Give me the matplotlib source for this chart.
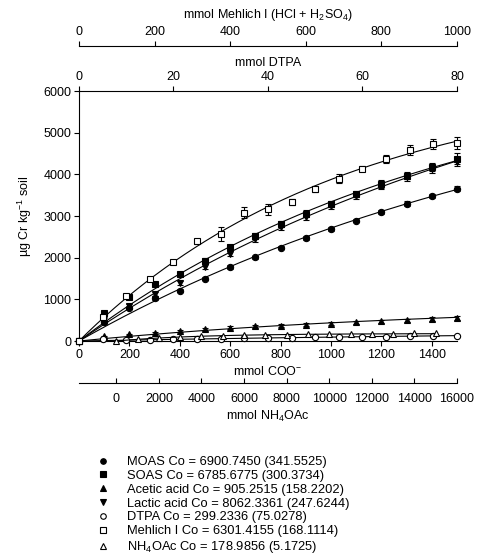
import matplotlib
matplotlib.use("Agg")
import matplotlib.pyplot as plt
import numpy as np
from matplotlib.lines import Line2D

plt.rcParams['font.family'] = ['Liberation Sans', 'DejaVu Sans']
plt.rcParams['mathtext.fontset'] = 'custom'
plt.rcParams['mathtext.rm'] = 'Liberation Sans'
plt.rcParams['mathtext.it'] = 'Liberation Sans:italic'
plt.rcParams['font.size'] = 9

# mmol COO- (organic acids)
x_coo = [0, 100, 200, 300, 400, 500, 600, 700, 800, 900, 1000, 1100, 1200, 1300, 1400, 1500]
moas = [0, 450, 790, 1030, 1210, 1500, 1780, 2010, 2240, 2470, 2690, 2890, 3100, 3300, 3490, 3650]
moas_err = [0, 30, 30, 40, 40, 40, 40, 40, 40, 40, 40, 40, 40, 50, 50, 60]
soas = [0, 680, 1050, 1370, 1600, 1930, 2250, 2520, 2800, 3060, 3280, 3530, 3770, 3970, 4170, 4380]
soas_err = [0, 40, 40, 50, 50, 60, 60, 70, 70, 80, 70, 70, 90, 80, 100, 130]
lactic = [0, 520, 840, 1130, 1400, 1780, 2100, 2440, 2740, 2980, 3240, 3480, 3720, 3930, 4120, 4300]
lactic_err = [0, 40, 40, 50, 50, 60, 60, 60, 70, 70, 70, 70, 80, 80, 90, 100]
acetic = [0, 110, 160, 200, 240, 280, 320, 350, 370, 395, 420, 445, 475, 500, 530, 560]
acetic_err = [0, 20, 20, 20, 30, 30, 30, 30, 30, 30, 40, 40, 40, 40, 50, 50]

# mmol DTPA
x_dtpa = [0, 5, 10, 15, 20, 25, 30, 35, 40, 45, 50, 55, 60, 65, 70, 75, 80]
dtpa = [0, 40, 30, 35, 45, 55, 60, 70, 75, 80, 90, 95, 100, 105, 110, 120, 130]

# mmol Mehlich I
x_meh = [0, 62.5, 125, 187.5, 250, 312.5, 375, 437.5, 500, 562.5, 625, 687.5, 750,
         812.5, 875, 937.5, 1000]
mehlich = [0, 570, 1080, 1480, 1900, 2390, 2570, 3080, 3160, 3340, 3650, 3900, 4140,
           4370, 4580, 4730, 4760]
mehlich_err = [0, 20, 30, 30, 40, 60, 160, 130, 130, 80, 70, 110, 70, 90, 120, 110, 140]

# mmol NH4OAc
x_nh4 = [0, 1000, 2000, 3000, 4000, 5000, 6000, 7000, 8000, 9000, 10000, 11000, 12000,
         13000, 14000, 15000]
nh4 = [0, 50, 70, 90, 110, 125, 135, 145, 155, 165, 170, 175, 180, 180, 185, 185]

labels = ['MOAS Co = 6900.7450 (341.5525)',
          'SOAS Co = 6785.6775 (300.3734)',
          'Acetic acid Co = 905.2515 (158.2202)',
          'Lactic acid Co = 8062.3361 (247.6244)',
          'DTPA Co = 299.2336 (75.0278)',
          'Mehlich I Co = 6301.4155 (168.1114)',
          'NH$_4$OAc Co = 178.9856 (5.1725)']
co_values = [6900.7450, 6785.6775, 905.2515, 8062.3361, 299.2336, 6301.4155, 178.9856]


def fit_line(x, y, co):
    # first order model y = Co (1 - exp(-k x)), k fitted to the points
    x = np.asarray(x, float)
    y = np.asarray(y, float)
    ks = np.logspace(-7, 0, 5000)
    sse = [((co * (1 - np.exp(-k * x)) - y) ** 2).sum() for k in ks]
    k = ks[int(np.argmin(sse))]
    xs = np.linspace(0, x.max(), 300)
    return xs, co * (1 - np.exp(-k * xs))


fig = plt.figure(figsize=(4.78, 5.55), dpi=100)
W, H = 478, 555
PT = 0.72  # points per pixel at 100 dpi
ax = fig.add_axes([79 / W, 1 - 341 / H, 378 / W, 250 / H])

ax_dtpa = ax.twiny()
ax_meh = ax.twiny()
ax_nh4 = ax.twiny()

for a in (ax, ax_dtpa, ax_meh, ax_nh4):
    a.spines['right'].set_visible(False)
    a.tick_params(direction='out', length=3.5, width=0.8, pad=2)
    for s in a.spines.values():
        s.set_linewidth(0.8)

ax.spines['top'].set_visible(False)
ax_dtpa.spines['left'].set_visible(False)
ax_dtpa.spines['bottom'].set_visible(False)
for s in ('left', 'bottom'):
    ax_meh.spines[s].set_visible(False)
ax_meh.spines['top'].set_position(('outward', 45 * PT))
for s in ('left', 'top'):
    ax_nh4.spines[s].set_visible(False)
ax_nh4.xaxis.set_ticks_position('bottom')
ax_nh4.xaxis.set_label_position('bottom')
ax_nh4.spines['bottom'].set_position(('outward', 42 * PT))
ax_nh4.tick_params(direction='in', pad=7)

ax.set_xlim(0, 1500)
ax.set_ylim(0, 6000)
ax.set_xticks(range(0, 1401, 200))
ax.set_yticks(range(0, 6001, 1000))
ax.set_xlabel('mmol COO$^{-}$', labelpad=3)
ax.set_ylabel('µg Cr kg$^{-1}$ soil', labelpad=7)

ax_dtpa.set_xlim(0, 80)
ax_dtpa.set_xticks(range(0, 81, 20))
ax_dtpa.set_xlabel('mmol DTPA', labelpad=4)

ax_meh.set_xlim(0, 1000)
ax_meh.set_xticks(range(0, 1001, 200))
ax_meh.set_xlabel('mmol Mehlich I (HCl + H$_2$SO$_4$)', labelpad=6)

ax_nh4.set_xlim(-1750, 16000)
ax_nh4.set_xticks(range(0, 16001, 2000))
ax_nh4.set_xlabel('mmol NH$_4$OAc', labelpad=3)

kw = dict(color='k', ls='none', ms=4.5, capsize=2.5, elinewidth=0.8, capthick=0.8,
          mec='k', mew=0.8, clip_on=False, zorder=3)

series = [
    (ax, x_coo, moas, moas_err, 'o', 'k', co_values[0]),
    (ax, x_coo, soas, soas_err, 's', 'k', co_values[1]),
    (ax, x_coo, acetic, acetic_err, '^', 'k', co_values[2]),
    (ax, x_coo, lactic, lactic_err, 'v', 'k', co_values[3]),
    (ax_dtpa, x_dtpa, dtpa, None, 'o', 'white', co_values[4]),
    (ax_meh, x_meh, mehlich, mehlich_err, 's', 'white', co_values[5]),
    (ax_nh4, x_nh4, nh4, None, '^', 'white', co_values[6]),
]

for a, x, y, err, m, fc, co in series:
    xs, ys = fit_line(x, y, co)
    a.plot(xs, ys, color='k', lw=0.8, zorder=2)
    a.errorbar(x, y, yerr=err, marker=m, mfc=fc, **kw)

handles = [Line2D([], [], color='k', ls='none', marker=m, mfc=fc, mec='k', ms=4, mew=0.8)
           for _, _, _, _, m, fc, _ in series]
fig.legend(handles, labels, loc='upper left', bbox_to_anchor=(95 / W, 1 - 456 / H),
           frameon=False, fontsize=9.3, handlelength=1.2, handletextpad=1.3,
           labelspacing=0.14, borderpad=0, borderaxespad=0)

fig.savefig('out.png', dpi=100)
